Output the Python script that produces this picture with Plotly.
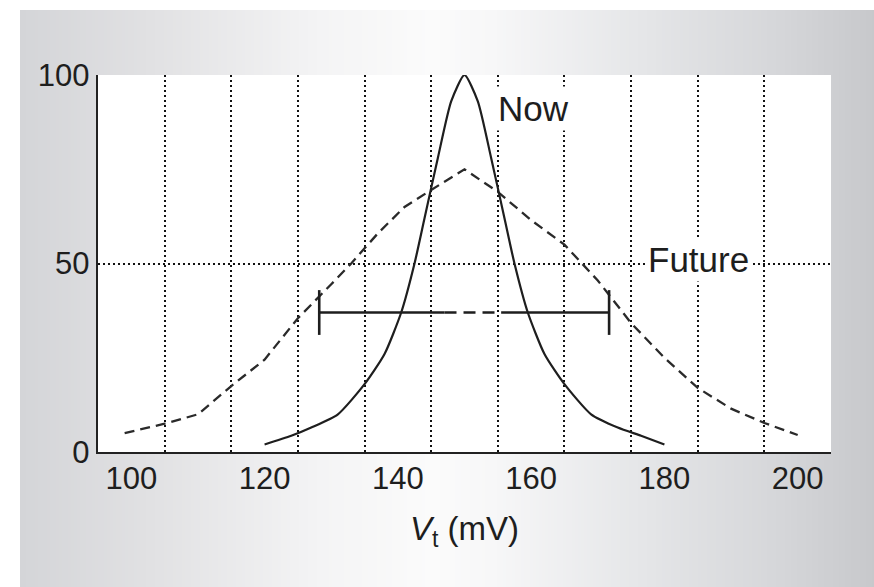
import plotly.graph_objects as go

# ---- data ----
now_x = [120, 124, 127, 131, 135, 138, 140.5, 142.5, 144, 146, 148, 150,
         152, 154, 156, 157.5, 159.5, 162, 165, 169, 173, 176.5, 180]
now_y = [2, 4.3, 6.5, 10, 18, 26, 37, 50, 62, 78, 93, 100,
         93, 78, 62, 50, 37, 26, 18, 10, 6.5, 4.3, 2]

future_x = [99, 105, 110, 115, 120, 125, 130, 133, 137, 141, 145, 150,
            155, 160, 165, 170, 172, 175, 180, 185, 190, 195, 200]
future_y = [5, 7.5, 10, 17.5, 24.5, 35.5, 44.5, 50, 58, 65, 69.5, 75,
            69, 61.5, 55, 45.5, 41, 34.2, 25, 17, 11.5, 7.7, 4.5]

bar_y = 37
bar_lo = 128.2
bar_hi = 171.7
bar_dash_lo = 147
bar_dash_hi = 155.5

x_ticks = [100, 120, 140, 160, 180, 200]
x_grid = [105, 115, 125, 135, 145, 155, 165, 175, 185, 195, 205]
y_ticks = [0, 50, 100]

labels = [("Now", 160.4, 91.0), ("Future", 185.1, 51.0)]

# ---- figure ----
W, H = 874, 587
L, T = 98, 75
R = 874 - 831
B = 587 - 452
pw, ph = W - L - R, H - T - B

fig = go.Figure()

fig.add_trace(go.Scatter(x=future_x, y=future_y, mode="lines",
                         line=dict(color="#2a2a2a", width=2.3, dash="10px,6px"),
                         hoverinfo="skip"))
fig.add_trace(go.Scatter(x=now_x, y=now_y, mode="lines",
                         line=dict(color="#1e1e1e", width=2.2, shape="spline", smoothing=0.6),
                         hoverinfo="skip"))

# spread bar
fig.add_trace(go.Scatter(x=[bar_lo, bar_dash_lo], y=[bar_y, bar_y], mode="lines",
                         line=dict(color="#1e1e1e", width=2.4), hoverinfo="skip"))
fig.add_trace(go.Scatter(x=[bar_dash_lo, bar_dash_hi], y=[bar_y, bar_y], mode="lines",
                         line=dict(color="#1e1e1e", width=2.4, dash="12px,7px"),
                         hoverinfo="skip"))
fig.add_trace(go.Scatter(x=[bar_dash_hi, bar_hi], y=[bar_y, bar_y], mode="lines",
                         line=dict(color="#1e1e1e", width=2.4), hoverinfo="skip"))
fig.add_trace(go.Scatter(x=[bar_lo, bar_hi], y=[bar_y, bar_y], mode="markers",
                         marker=dict(symbol="line-ns", size=32,
                                     line=dict(color="#1e1e1e", width=2.6)),
                         hoverinfo="skip"))

# background gradient (horizontal), positions in screenshot pixels
stops = [(0, (0xd4, 0xd5, 0xd8)), (130, (0xe1, 0xe1, 0xe3)), (300, (0xf4, 0xf4, 0xf5)),
         (410, (0xfb, 0xfb, 0xfb)), (470, (0xf7, 0xf7, 0xf8)), (620, (0xe5, 0xe6, 0xe8)),
         (760, (0xd5, 0xd6, 0xd9)), (854, (0xc7, 0xc8, 0xcb))]

def col_at(p):
    for (p0, c0), (p1, c1) in zip(stops[:-1], stops[1:]):
        if p0 <= p <= p1:
            f = (p - p0) / (p1 - p0)
            return "rgb(%d,%d,%d)" % tuple(round(a + (b - a) * f) for a, b in zip(c0, c1))
    return "rgb(%d,%d,%d)" % stops[-1][1]

def px2x(px):  # screenshot px -> paper
    return (px - L) / pw

def py2y(py):
    return (H - B - py) / ph

shapes = []
x0p, y0p = 20, 10
step = 3
px = x0p
while px < W:
    shapes.append(dict(type="rect", xref="paper", yref="paper", layer="below",
                       x0=px2x(px), x1=px2x(min(px + step + 0.6, W)),
                       y0=py2y(H), y1=py2y(y0p),
                       fillcolor=col_at(px - x0p), line=dict(width=0)))
    px += step
shapes.append(dict(type="rect", xref="paper", yref="paper", layer="below",
                   x0=0, x1=1, y0=0, y1=1, fillcolor="white", line=dict(width=0)))

annotations = [dict(x=x, y=y, text=t, showarrow=False, xref="x", yref="y",
                    font=dict(size=35, color="#1e1e1e"), bgcolor="white",
                    borderpad=2)
               for t, x, y in labels]

font_family = "Liberation Sans, Arial, sans-serif"
grid_style = dict(gridcolor="#111", gridwidth=2, griddash="2px,3px")
fig.update_layout(
    width=W, height=H,
    margin=dict(l=L, r=R, t=T, b=B),
    paper_bgcolor="white", plot_bgcolor="white",
    showlegend=False, hovermode=False,
    shapes=shapes, annotations=annotations,
    font=dict(family=font_family, color="#1e1e1e"),
    xaxis=dict(range=[95, 205], tickmode="array", tickvals=x_ticks,
               ticktext=[str(v) for v in x_ticks], showgrid=False, zeroline=False,
               showline=True, linecolor="#222", linewidth=2.4, ticks="",
               ticklabelstandoff=-3,
               tickfont=dict(size=31, family=font_family, color="#1e1e1e"),
               minor=dict(tickmode="array", tickvals=x_grid, showgrid=True,
                          ticks="", **grid_style),
               title=dict(text="<i>V</i><sub>t</sub> (mV)", standoff=23,
                          font=dict(size=33, family=font_family, color="#1e1e1e"))),
    yaxis=dict(range=[0, 100], tickmode="array", tickvals=y_ticks,
               ticktext=[str(v) for v in y_ticks], showgrid=True, zeroline=False,
               showline=True, linecolor="#222", linewidth=2.4, ticks="",
               ticklabelstandoff=0, **grid_style,
               tickfont=dict(size=31, family=font_family, color="#1e1e1e")),
)

fig.write_html("out.html",
               config={"displayModeBar": False, "staticPlot": True},
               post_script="document.body.style.margin='0';"
                           "document.body.style.overflow='hidden';")
